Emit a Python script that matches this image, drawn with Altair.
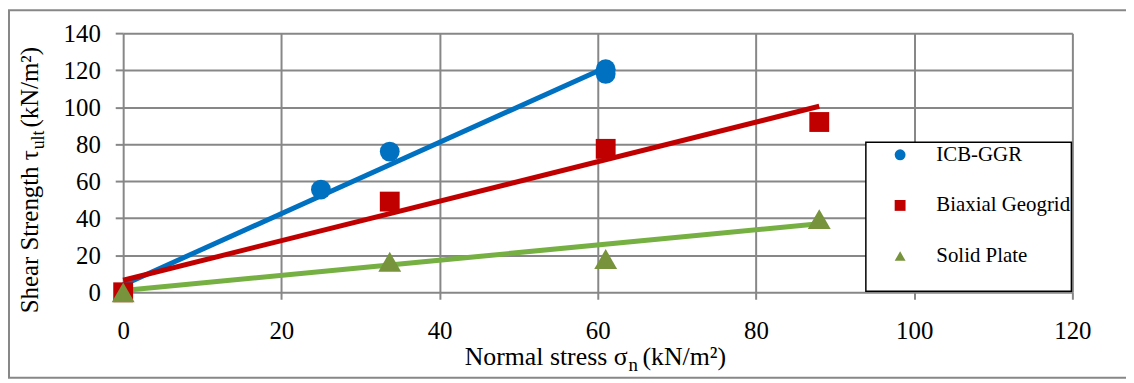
import altair as alt
import pandas as pd

# ---- data ----
series_names = ["ICB-GGR", "Biaxial Geogrid", "Solid Plate"]
marker_colors = ["#0070C0", "#C00000", "#77933C"]
line_colors = ["#0070C0", "#C00000", "#76B043"]
marker_shapes = ["circle", "square", "triangle-up"]
marker_sizes = [400, 400, 530]

icb_x = [25, 33.7, 61, 61]
icb_y = [55.5, 76, 120.5, 118]
biaxial_x = [0, 33.7, 61, 88]
biaxial_y = [0, 49, 77.5, 92]
solid_x = [0, 33.7, 61, 88]
solid_y = [0, 16.5, 18, 39.5]

# trend lines (end points)
icb_trend_x = [0, 61]
icb_trend_y = [4, 121.5]
biaxial_trend_x = [0, 88]
biaxial_trend_y = [6.5, 100.5]
solid_trend_x = [0, 88]
solid_trend_y = [1, 37]

x_ticks = [0, 20, 40, 60, 80, 100, 120]
y_ticks = [0, 20, 40, 60, 80, 100, 120, 140]

x_title_main = "Normal stress σ"
x_title_sub = "n"
x_title_unit = "(kN/m²)"
y_title_main = "Shear Strength τ"
y_title_sub = "ult"
y_title_unit = "(kN/m²)"

FONT = "Liberation Serif"
GRID = "#878787"

# ---- tables ----
pts = []
for name, xs, ys, sz in zip(series_names,
                            [icb_x, biaxial_x, solid_x],
                            [icb_y, biaxial_y, solid_y],
                            marker_sizes):
    for xv, yv in zip(xs, ys):
        pts.append({"series": name, "x": xv, "y": yv, "sz": sz})
points_df = pd.DataFrame(pts)

lns = []
for name, xs, ys, col in zip(series_names,
                             [icb_trend_x, biaxial_trend_x, solid_trend_x],
                             [icb_trend_y, biaxial_trend_y, solid_trend_y],
                             line_colors):
    for xv, yv in zip(xs, ys):
        lns.append({"series": name, "x": xv, "y": yv, "lc": col})
lines_df = pd.DataFrame(lns)

xscale = alt.Scale(domain=[0, 120], nice=False, zero=False)
yscale = alt.Scale(domain=[0, 140], nice=False, zero=False)

xaxis = alt.Axis(values=x_ticks, title=None, labelPadding=20, tickSize=7,
                 labelFlush=False, labelOverlap=False,
                 labelFont=FONT, labelFontSize=25, labelColor="black")
yaxis = alt.Axis(values=y_ticks, title=None, labelPadding=15, tickSize=8,
                 labelOverlap=False,
                 labelFont=FONT, labelFontSize=25, labelColor="black")

lines = alt.Chart(lines_df).mark_line(strokeWidth=5).encode(
    x=alt.X("x:Q", scale=xscale, axis=xaxis),
    y=alt.Y("y:Q", scale=yscale, axis=yaxis),
    detail="series:N",
    stroke=alt.Stroke("lc:N", scale=None, legend=None),
)

points = alt.Chart(points_df).mark_point(filled=True, opacity=1, strokeWidth=0).encode(
    x=alt.X("x:Q", scale=xscale, axis=xaxis),
    y=alt.Y("y:Q", scale=yscale, axis=yaxis),
    color=alt.Color("series:N", sort=series_names,
                    scale=alt.Scale(domain=series_names, range=marker_colors),
                    legend=alt.Legend(title=None, orient="none", legendX=772, legendY=112)),
    shape=alt.Shape("series:N", sort=series_names,
                    scale=alt.Scale(domain=series_names, range=marker_shapes)),
    size=alt.Size("sz:Q", scale=None, legend=None),
)

one = pd.DataFrame({"k": [0]})

legend_box = alt.Chart(one).mark_rect(fill="white", stroke="black", strokeWidth=1.5).encode(
    x=alt.value(748), x2=alt.value(955), y=alt.value(110), y2=alt.value(260))

def txt(s, x, y, size, align="left", angle=0):
    return alt.Chart(one).mark_text(text=s, font=FONT, fontSize=size, align=align,
                                    baseline="alphabetic", angle=angle, color="black").encode(
        x=alt.value(x), y=alt.value(y))

titles = [
    txt(x_title_main, 508, 334, 26, "right"),
    txt(x_title_sub, 509, 340, 19, "left"),
    txt(x_title_unit, 523, 334, 26, "left"),
    txt(y_title_main, -86, 118, 25, "right", 270),
    txt(y_title_sub, -80, 117, 18, "left", 270),
    txt(y_title_unit, -86, 95, 25, "left", 270),
]

border_left = alt.Chart(one).mark_rule(color=GRID, strokeWidth=2).encode(
    x=alt.value(-115), y=alt.value(-23), y2=alt.value(347))
border_top = alt.Chart(one).mark_rule(color=GRID, strokeWidth=2).encode(
    x=alt.value(-116), x2=alt.value(1010), y=alt.value(-23))
border_bottom = alt.Chart(one).mark_rule(color=GRID, strokeWidth=2).encode(
    x=alt.value(-116), x2=alt.value(1010), y=alt.value(347))

chart = alt.layer(
    lines, points, legend_box, border_left, border_top, border_bottom, *titles
).properties(
    width=956, height=261,
    autosize=alt.AutoSizeParams(type="none"),
    padding={"left": 116, "top": 24, "right": 54, "bottom": 87},
    background="white",
).configure_view(stroke=None).configure_axis(
    grid=True, gridColor=GRID, gridWidth=2, domain=False,
    ticks=True, tickColor=GRID, tickWidth=2,
    labelFont=FONT, labelFontSize=25, labelColor="black",
    labelOverlap=False, labelBound=False,
).configure_legend(
    labelFont=FONT, labelFontSize=21, labelColor="black",
    symbolSize=120, symbolStrokeWidth=0,
    rowPadding=29, labelOffset=26, padding=0, labelLimit=300,
)

chart.save("out.html", embed_options={"renderer": "svg", "actions": False})
